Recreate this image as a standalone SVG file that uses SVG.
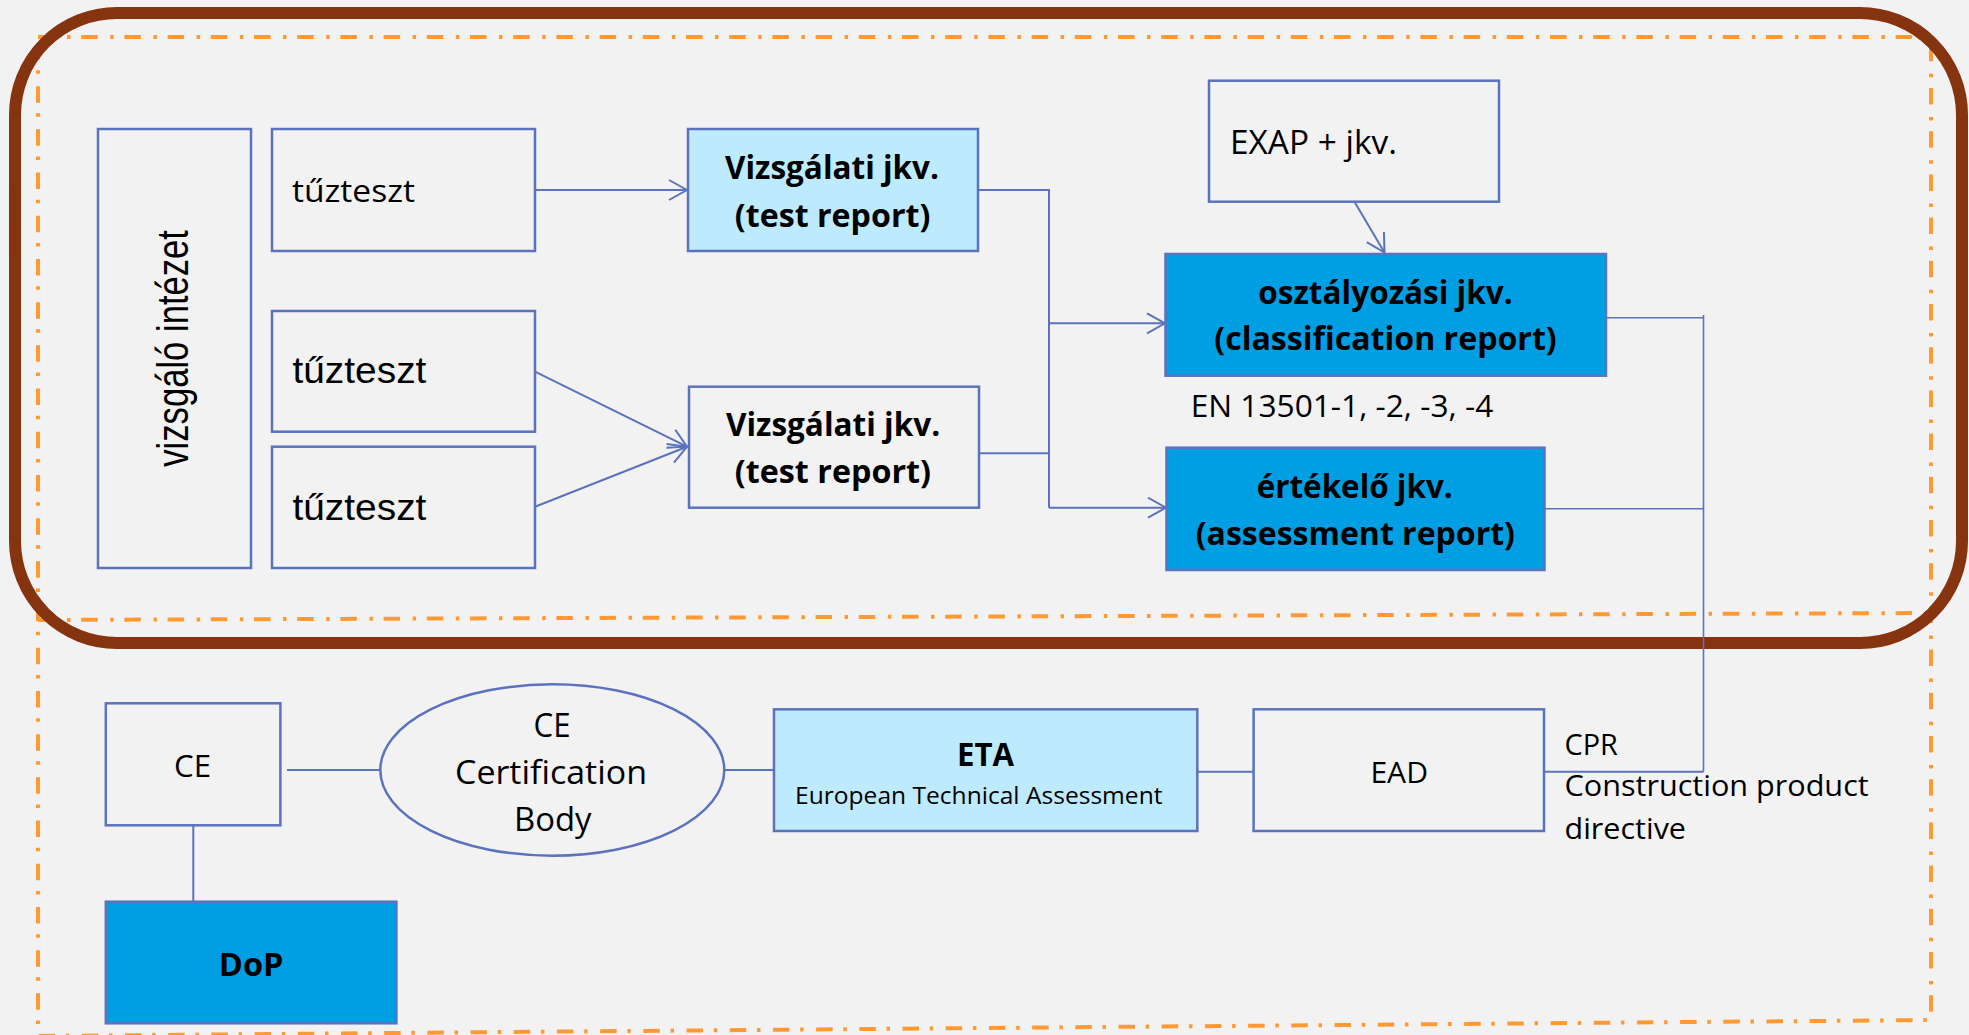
<svg xmlns="http://www.w3.org/2000/svg" width="1969" height="1035" viewBox="0 0 1969 1035">
<defs>
<style>
.bg{fill:#F2F2F2}
.frame{fill:none;stroke:#FF9933;stroke-width:4;stroke-dasharray:16.5 12.5 3.5 10.7}
.brown{fill:none;stroke:#86330F;stroke-width:12}
.box{fill:#F2F2F2;stroke:#5B72BD;stroke-width:2.5}
.lb{fill:#BDEBFD;stroke:#5B72BD;stroke-width:2.5}
.db{fill:#009FE3;stroke:#5B72BD;stroke-width:2.5}
.c{fill:none;stroke:#5B72BD;stroke-width:2}
.ct{fill:none;stroke:#5B72BD;stroke-width:1.6}
.t{font-family:"Open Sans","Liberation Sans",sans-serif;fill:#000}
.a{font-family:"Liberation Sans",Arial,sans-serif;fill:#000}
.b{font-weight:bold}
</style>
<marker id="arr" markerUnits="userSpaceOnUse" markerWidth="22" markerHeight="24" refX="19" refY="11" orient="auto">
<path d="M1,1 L19,11 L1,21" fill="none" stroke="#5B72BD" stroke-width="2"/>
</marker>
</defs>
<rect class="bg" x="0" y="0" width="1969" height="1035"/>
<g id="frames">
<path class="frame" d="M38,37 H1931 V1020 L38,1036 Z"/>
<path class="frame" d="M38,620 L1931,613"/>
<rect class="brown" x="15" y="13" width="1947" height="630" rx="102" ry="102"/>
</g>
<g id="connectors">
<line class="c" x1="535" y1="190" x2="687" y2="190" marker-end="url(#arr)"/>
<line class="c" x1="535" y1="371.7" x2="687" y2="446.7" marker-end="url(#arr)"/>
<line class="c" x1="535" y1="506.7" x2="687" y2="446.7" marker-end="url(#arr)"/>
<polyline class="c" points="978,190 1049,190 1049,507.7"/>
<line class="c" x1="979" y1="453.3" x2="1049" y2="453.3"/>
<line class="c" x1="1049" y1="323.3" x2="1165" y2="323.3" marker-end="url(#arr)"/>
<line class="c" x1="1049" y1="507.7" x2="1166" y2="507.7" marker-end="url(#arr)"/>
<line class="c" x1="1354.6" y1="202" x2="1384.5" y2="252.5" marker-end="url(#arr)"/>
<line class="ct" x1="1543" y1="317.7" x2="1703.5" y2="317.7"/>
<line class="ct" x1="1703.5" y1="315" x2="1703.5" y2="771.7"/>
<line class="ct" x1="1545" y1="508.8" x2="1703.5" y2="508.8"/>
<line class="c" x1="1703.5" y1="771.7" x2="1544" y2="771.7"/>
<line class="c" x1="287" y1="770" x2="380.4" y2="770"/>
<line class="c" x1="193.3" y1="825.3" x2="193.3" y2="901.7"/>
<line class="c" x1="723.7" y1="770" x2="774" y2="770"/>
<line class="c" x1="1197.3" y1="771.7" x2="1253.6" y2="771.7"/>
</g>
<g id="vizsgalo">
<rect class="box" x="98" y="129" width="153" height="439"/>
<text class="a" font-size="45" transform="translate(188.3,466.7) rotate(-90)" textLength="236.7" lengthAdjust="spacingAndGlyphs">vizsgáló intézet</text>
</g>
<g id="tuzteszt1">
<rect class="box" x="272" y="129" width="263" height="122"/>
<text class="t" x="292" y="201.7" font-size="31" textLength="123" lengthAdjust="spacingAndGlyphs">tűzteszt</text>
</g>
<g id="tuzteszt2">
<rect class="box" x="272" y="311" width="263" height="120.7"/>
<text class="a" x="292.4" y="383.3" font-size="36" textLength="134" lengthAdjust="spacingAndGlyphs">tűzteszt</text>
</g>
<g id="tuzteszt3">
<rect class="box" x="272" y="446.7" width="263" height="121.3"/>
<text class="a" x="292.4" y="520" font-size="36" textLength="134" lengthAdjust="spacingAndGlyphs">tűzteszt</text>
</g>
<g id="testreport1">
<rect class="lb" x="688" y="129" width="290" height="122"/>
<text class="t b" x="725" y="179" font-size="33" textLength="214" lengthAdjust="spacingAndGlyphs">Vizsgálati jkv.</text>
<text class="t b" x="734.8" y="226.7" font-size="33" textLength="195.6" lengthAdjust="spacingAndGlyphs">(test report)</text>
</g>
<g id="testreport2">
<rect class="box" x="689" y="386.7" width="290" height="121"/>
<text class="t b" x="725.9" y="436" font-size="33" textLength="214.3" lengthAdjust="spacingAndGlyphs">Vizsgálati jkv.</text>
<text class="t b" x="734.8" y="483.3" font-size="33" textLength="196.2" lengthAdjust="spacingAndGlyphs">(test report)</text>
</g>
<g id="exap">
<rect class="box" x="1209" y="80.7" width="290" height="121"/>
<text class="t" x="1230" y="154" font-size="32" textLength="167" lengthAdjust="spacingAndGlyphs">EXAP + jkv.</text>
</g>
<g id="osztalyozasi">
<rect class="db" x="1165.5" y="254" width="440.5" height="121.7"/>
<text class="t b" x="1258.3" y="304" font-size="33" textLength="254.4" lengthAdjust="spacingAndGlyphs">osztályozási jkv.</text>
<text class="t b" x="1214.3" y="350" font-size="33" textLength="342.4" lengthAdjust="spacingAndGlyphs">(classification report)</text>
</g>
<g id="en13501">
<text class="t" x="1190.7" y="416.7" font-size="31" textLength="302.6" lengthAdjust="spacingAndGlyphs">EN 13501-1, -2, -3, -4</text>
</g>
<g id="ertekelo">
<rect class="db" x="1166.5" y="447.7" width="378" height="122.3"/>
<text class="t b" x="1256.7" y="498.3" font-size="33" textLength="196" lengthAdjust="spacingAndGlyphs">értékelő jkv.</text>
<text class="t b" x="1195.7" y="545" font-size="33" textLength="319.3" lengthAdjust="spacingAndGlyphs">(assessment report)</text>
</g>
<g id="ce">
<rect class="box" x="105.8" y="703.3" width="174.6" height="122"/>
<text class="t" x="174" y="777.3" font-size="31" textLength="37" lengthAdjust="spacingAndGlyphs">CE</text>
</g>
<g id="cebody">
<ellipse class="box" cx="552.3" cy="770" rx="172" ry="85.7"/>
<text class="t" x="533.5" y="736.7" font-size="32" textLength="37" lengthAdjust="spacingAndGlyphs">CE</text>
<text class="t" x="455" y="784" font-size="32" textLength="192" lengthAdjust="spacingAndGlyphs">Certification</text>
<text class="t" x="514" y="830.7" font-size="32" textLength="77.5" lengthAdjust="spacingAndGlyphs">Body</text>
</g>
<g id="eta">
<rect class="lb" x="774" y="709.3" width="423.3" height="121.7"/>
<text class="t b" x="957" y="766" font-size="33" textLength="57" lengthAdjust="spacingAndGlyphs">ETA</text>
<text class="t" x="795" y="804" font-size="24" textLength="367.5" lengthAdjust="spacingAndGlyphs">European Technical Assessment</text>
</g>
<g id="ead">
<rect class="box" x="1253.6" y="709.3" width="290.4" height="121.7"/>
<text class="t" x="1370.4" y="782.7" font-size="29.5" textLength="57.6" lengthAdjust="spacingAndGlyphs">EAD</text>
</g>
<g id="cpr">
<text class="t" x="1564.5" y="755" font-size="30" textLength="53.3" lengthAdjust="spacingAndGlyphs">CPR</text>
<text class="t" x="1564.5" y="796" font-size="30" textLength="304.2" lengthAdjust="spacingAndGlyphs">Construction product</text>
<text class="t" x="1564.5" y="839.3" font-size="30" textLength="121.5" lengthAdjust="spacingAndGlyphs">directive</text>
</g>
<g id="dop">
<rect class="db" x="105.8" y="901.7" width="290.6" height="121.6"/>
<text class="t b" x="218.8" y="976" font-size="32" textLength="64.7" lengthAdjust="spacingAndGlyphs">DoP</text>
</g>
</svg>
